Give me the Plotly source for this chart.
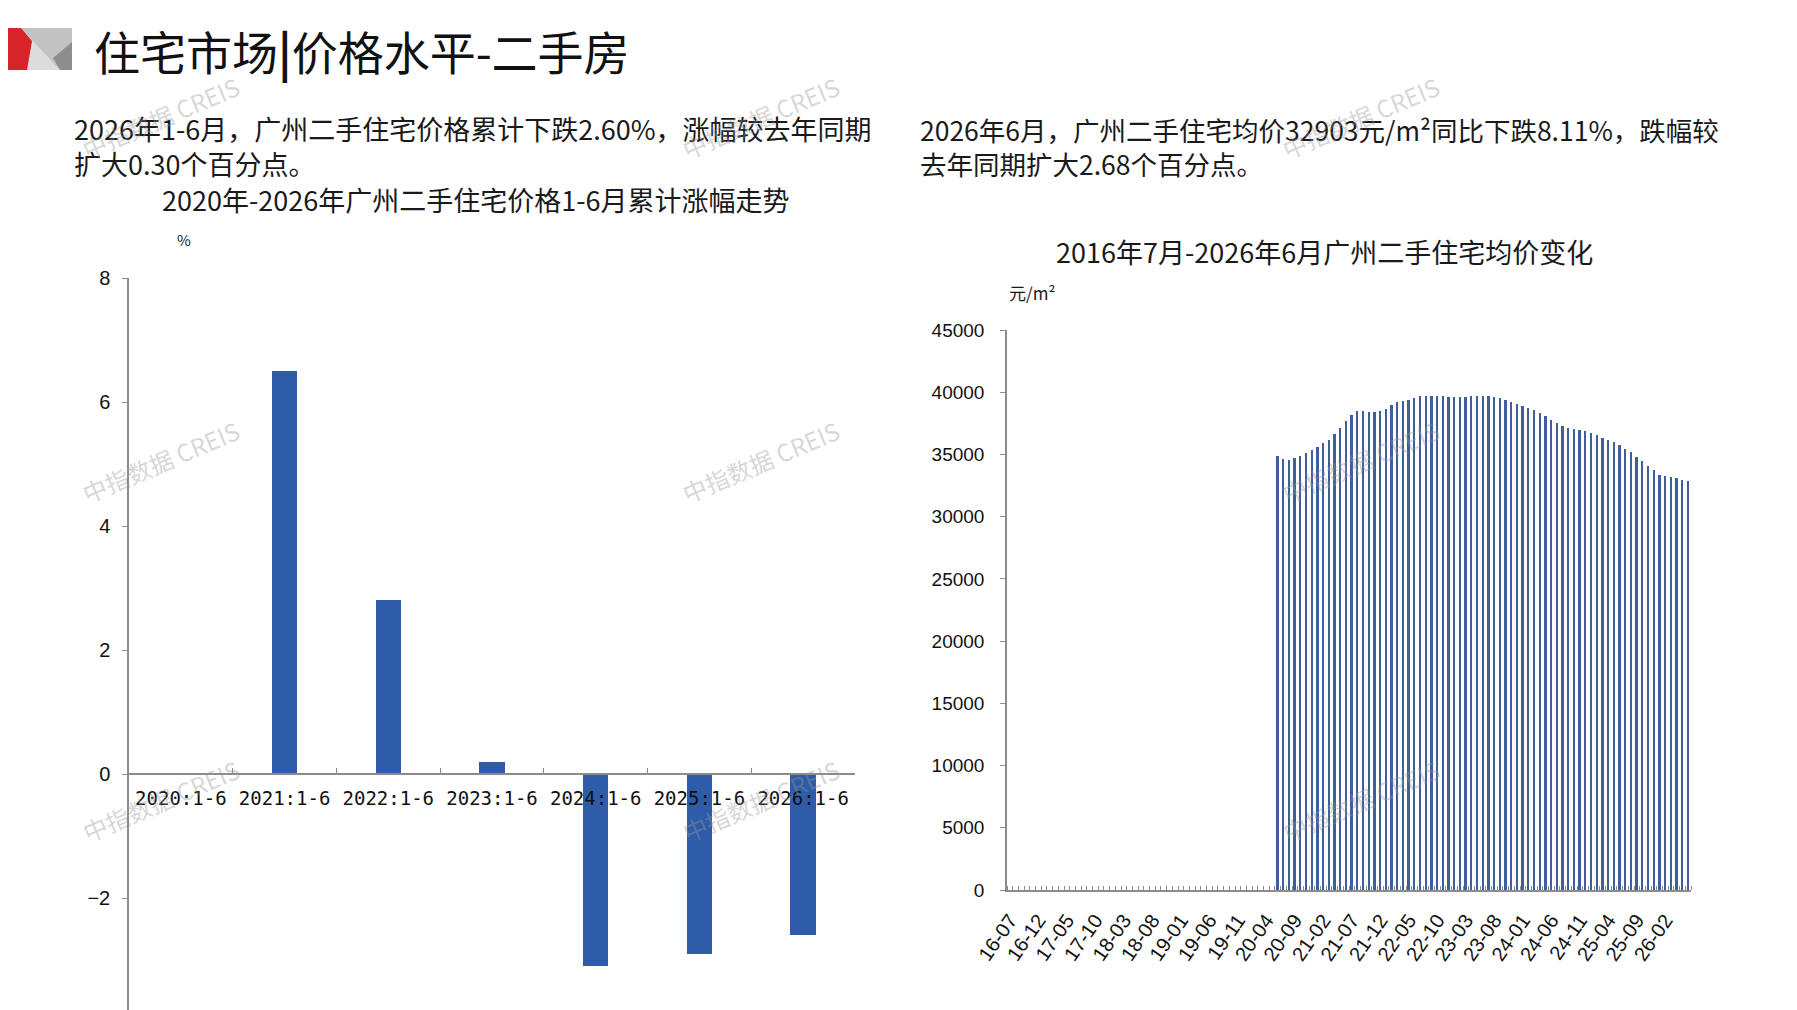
import plotly.graph_objects as go

W, H = 1797, 1010

# ---------------- data ----------------
# left chart: cumulative change of Guangzhou second-hand housing price, Jan-Jun (%)
cum_categories = ["2020:1-6", "2021:1-6", "2022:1-6", "2023:1-6",
                  "2024:1-6", "2025:1-6", "2026:1-6"]
cum_change = [None, 6.50, 2.80, 0.20, -3.10, -2.90, -2.60]
cum_ticks = [-2, 0, 2, 4, 6, 8]

# right chart: monthly average price (yuan/m2), axis 2016-07 .. 2026-06
axis_start_year, axis_start_month, axis_months = 2016, 7, 120
price_start = "20-06"
avg_price = [
    34840, 34600, 34580, 34710, 34900, 35120, 35370, 35620, 35900, 36150,
    36640, 37160, 37700, 38170, 38500, 38470, 38400, 38400, 38500, 38670,
    38980, 39180, 39280, 39390, 39560, 39670, 39700, 39700, 39700, 39700,
    39650, 39590, 39620, 39650, 39700, 39700, 39700, 39670, 39620, 39510,
    39380, 39220, 39060, 38900, 38760, 38580, 38340, 38070, 37800, 37530,
    37320, 37130, 37020, 36970, 36860, 36760, 36600, 36360, 36170, 36010,
    35790, 35470, 35180, 34810, 34450, 34080, 33730, 33330, 33230, 33170,
    33090, 32960, 32903,
]
price_ticks = [0, 5000, 10000, 15000, 20000, 25000, 30000, 35000, 40000, 45000]
label_every = 5

# month labels of the right axis
months = []
yy, mm = axis_start_year, axis_start_month
for _ in range(axis_months):
    months.append(f"{yy % 100:02d}-{mm:02d}")
    mm += 1
    if mm > 12:
        mm = 1
        yy += 1
month_pos = list(range(len(months)))
i0 = months.index(price_start)
price_pos = month_pos[i0:i0 + len(avg_price)]
tick_pos = month_pos[::label_every]
tick_txt = months[::label_every]

# ---------------- helpers (screen pixel -> paper) ----------------
OFF = 8  # page body margin

def px(x):
    return (x - OFF) / W

def py(y):
    return 1 - (y - OFF) / H

CJK = "Noto Sans CJK SC"
AX = "#8c8c8c"

fig = go.Figure()

fig.add_trace(go.Bar(
    x=cum_categories, y=cum_change, width=0.245,
    marker=dict(color="#2f5ca8", line=dict(width=0)),
    xaxis="x", yaxis="y", showlegend=False, hoverinfo="x+y",
))

fig.add_trace(go.Bar(
    x=price_pos, y=avg_price, width=0.32,
    marker=dict(color="#3f5f9c", line=dict(width=0)),
    xaxis="x2", yaxis="y2", showlegend=False,
    customdata=months[i0:i0 + len(avg_price)],
    hovertemplate="%{customdata}: %{y}<extra></extra>",
))

# left axes geometry (screen pixels)
L_X0, L_X1 = 129, 855
L_TOP, L_ZERO, L_UNIT, L_BOT = 278, 774, 62.0, 1010
y_bottom_val = -(L_BOT - L_ZERO) / L_UNIT

# right axes geometry (screen pixels)
R_X0, R_X1 = 1007, 1691
R_TOP, R_BOT = 330, 890

fig.update_layout(
    width=W, height=H,
    margin=dict(l=0, r=0, t=0, b=0, pad=0),
    paper_bgcolor="white", plot_bgcolor="white",
    bargap=0, showlegend=False,
    xaxis=dict(
        domain=[px(L_X0), px(L_X1)], anchor="free", position=py(L_ZERO),
        type="category", showline=True, linecolor=AX, linewidth=1.5,
        ticks="inside", ticklen=5, tickcolor=AX, tickson="boundaries",
        tickfont=dict(family="DejaVu Sans Mono", size=19, color="#111"),
        ticklabelstandoff=7, showgrid=False, zeroline=False, automargin=False,
    ),
    yaxis=dict(
        domain=[py(L_BOT), py(L_TOP)], anchor="x", range=[y_bottom_val, 8],
        tickvals=cum_ticks, showline=True, linecolor=AX, linewidth=1.5,
        ticks="outside", ticklen=5, tickcolor=AX,
        tickfont=dict(family="Liberation Sans", size=20, color="#111"),
        ticklabelstandoff=8,
        showgrid=False, zeroline=False, automargin=False,
    ),
    xaxis2=dict(
        domain=[px(R_X0), px(R_X1)], anchor="y2",
        range=[-0.5, len(months) - 0.5],
        tickvals=tick_pos, ticktext=tick_txt, tickangle=-55,
        ticks="", showline=True, linecolor=AX, linewidth=1.5,
        minor=dict(ticks="inside", ticklen=4, tickcolor=AX, tick0=-0.5, dtick=1, showgrid=False),
        tickfont=dict(family="Liberation Sans", size=20, color="#111"),
        ticklabelstandoff=9, showgrid=False, zeroline=False, automargin=False,
    ),
    yaxis2=dict(
        domain=[py(R_BOT), py(R_TOP)], anchor="x2", range=[0, 45000],
        tickvals=price_ticks, tickformat="d", showline=True, linecolor=AX, linewidth=1.5,
        ticks="outside", ticklen=5, tickcolor=AX,
        tickfont=dict(family="Liberation Sans", size=19, color="#111"),
        ticklabelstandoff=12,
        showgrid=False, zeroline=False, automargin=False,
    ),
)

# ---------------- header icon ----------------
def poly(points, color):
    d = "M " + " L ".join(f"{px(a):.5f},{py(b):.5f}" for a, b in points) + " Z"
    fig.add_shape(type="path", path=d, xref="paper", yref="paper",
                  fillcolor=color, line=dict(width=0), layer="above")

poly([(21, 28), (72, 28), (72, 70), (21, 70)], "#c2c2c2")
poly([(21, 28), (60, 70), (21, 70)], "#dcdcdc")
poly([(72, 42), (72, 70), (60, 70), (53, 58)], "#8e8e8e")
poly([(0, 28), (21, 28), (32, 41), (27, 70), (0, 70)], "#d7232a")

# ---------------- texts ----------------
def text(x, y, s, size, color="#1a1a1a", anchor="left", family=CJK):
    fig.add_annotation(x=px(x), y=py(y), xref="paper", yref="paper", text=s,
                       showarrow=False, xanchor=anchor, yanchor="middle", align="left",
                       font=dict(family=family, size=size, color=color))

text(92, 50, "住宅市场<b>|</b>价格水平-二手房", 46, "#111")
text(72, 146, "2026年1-6月，广州二手住宅价格累计下跌2.60%，涨幅较去年同期<br>扩大0.30个百分点。", 27)
text(918, 146, "2026年6月，广州二手住宅均价32903元/m²同比下跌8.11%，跌幅较<br>去年同期扩大2.68个百分点。", 26.5)
text(476, 200, "2020年-2026年广州二手住宅价格1-6月累计涨幅走势", 27, anchor="center")
text(184, 240, "%", 15, anchor="center")
text(1324, 251, "2016年7月-2026年6月广州二手住宅均价变化", 27, anchor="center")
text(1032, 292, "元/m²", 17, anchor="center")

# ---------------- watermarks ----------------
for wx in (160, 760, 1360):
    for wy in (118, 462, 800):
        fig.add_annotation(x=px(wx), y=py(wy), xref="paper", yref="paper",
                           text="中指数据 CREIS", showarrow=False, textangle=-23,
                           xanchor="center", yanchor="middle",
                           font=dict(family=CJK, size=24, color="rgba(150,150,150,0.4)"))

fig.write_html("out.html")
